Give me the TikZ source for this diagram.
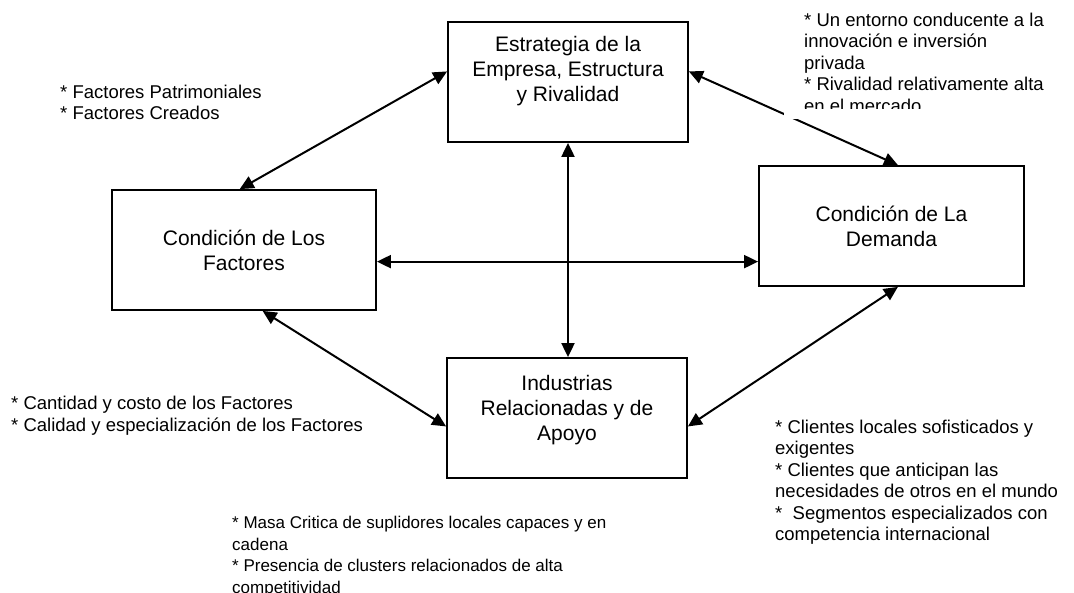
\documentclass[tikz,border=0pt]{standalone}
\usepackage{fontspec}
\setmainfont{Liberation Sans}
\usetikzlibrary{positioning, arrows.meta}

\begin{document}
\begin{tikzpicture}[x=1pt, y=-1pt,
    caja/.style={draw, line width=1.8pt, inner sep=0pt},
    texto/.style={align=center, inner sep=0pt, font=\fontsize{21}{25}\selectfont},
    nota/.style={align=left, anchor=north west, inner sep=0pt, font=\fontsize{18.5}{21.5}\selectfont},
    flecha/.style={{Triangle[length=14pt,width=13pt]}-{Triangle[length=14pt,width=13pt]}, line width=2pt}]
                \useasboundingbox (0,0) rectangle (1074,593);
                \node[caja, minimum width=240pt, minimum height=120pt] (estrategia) at (568,82) {};
                \node[caja, minimum width=264pt, minimum height=120pt] (factores) at (244,250) {};
                \node[caja, minimum width=265pt, minimum height=120pt] (demanda) at (891.5,226) {};
                \node[caja, minimum width=240pt, minimum height=120pt] (apoyo) at (567,418) {};
                \node[texto, below=15pt of estrategia.north] (testrategia) {Estrategia de la\\Empresa, Estructura\\y Rivalidad};
                \node[texto] (tfactores) at (factores.center) {Condición de Los\\Factores};
                \node[texto] (tdemanda) at (demanda.center) {Condición de La\\Demanda};
                \node[texto, below=17.5pt of apoyo.north] (tapoyo) {Industrias\\Relacionadas y de\\Apoyo};
                \draw[flecha] (estrategia.175) -- (factores.94);
                \draw[flecha] (estrategia.5) -- (demanda.84);
                \draw[flecha] (factores.-73) -- (apoyo.184);
                \draw[flecha] (apoyo.-4) -- (demanda.-84);
                \draw[flecha] (factores.-5) -- (factores.-5 -| demanda.west);
                \draw[flecha] (estrategia.south) -- (estrategia.south |- apoyo.north);
                \fill[white] (784,0) rectangle (1074,119);
                \begin{scope}
                    \clip (784,0) rectangle (1074,109);
                    \node[nota] (nrivalidad) at (804,12.5) {* Un entorno conducente a la\\innovación e inversión\\privada\\* Rivalidad relativamente alta\\en el mercado};
                \end{scope}
                \node[nota] (nfactores) at (60,84.5) {* Factores Patrimoniales\\* Factores Creados};
                \node[nota] (ncantidad) at (11,396) {* Cantidad y costo de los Factores\\* Calidad y especialización de los Factores};
                \node[nota] (nclientes) at (775,419.5) {* Clientes locales sofisticados y\\exigentes\\* Clientes que anticipan las\\necesidades de otros en el mundo\\*\ \ Segmentos especializados con\\competencia internacional};
                \node[nota, font=\fontsize{17}{21.5}\selectfont] (nmasa) at (232,516) {* Masa Critica de suplidores locales capaces y en\\cadena\\* Presencia de clusters relacionados de alta\\competitividad};
\end{tikzpicture}
\end{document}
